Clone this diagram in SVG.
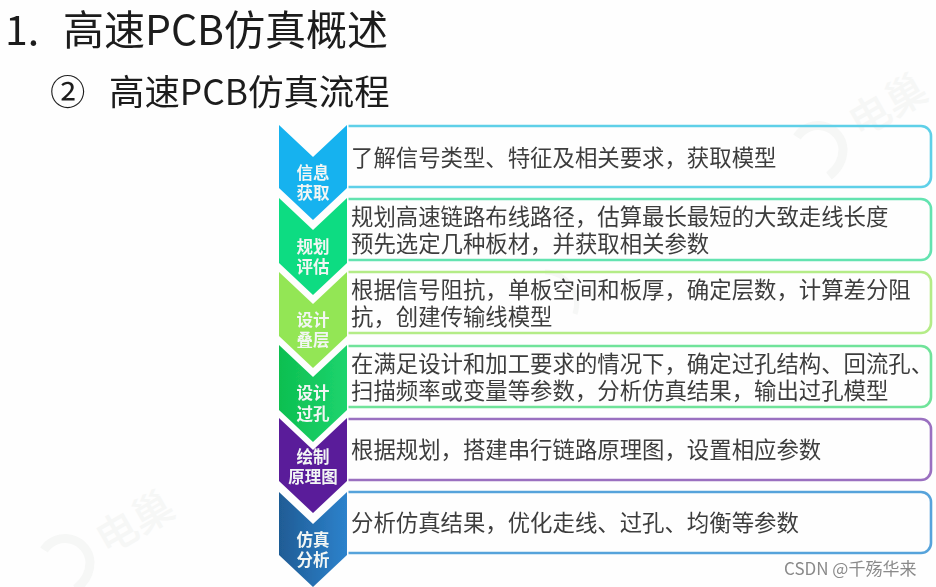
<svg xmlns="http://www.w3.org/2000/svg" width="936" height="587" viewBox="0 0 936 587">
<style>
text{font-family:"Noto Sans CJK SC","Noto Sans",sans-serif}
.t1{font-size:41px;fill:#1c1c1c}
.t2{font-size:35.4px;fill:#1c1c1c}
.b{font-size:22.4px;fill:#3c3c3c}
.c{font-size:16.5px;fill:#f2f6f4;text-anchor:middle;font-weight:700}
.box{fill:none;stroke-width:2.6}
.ch{stroke:#fefefe;stroke-width:3;paint-order:stroke}
.wm{font-size:41px;fill:#f6f7f6;font-weight:500;text-anchor:middle}
.sw{fill:none;stroke:#f6f7f6;stroke-width:9}
</style>
<defs>
<linearGradient id="blue" x1="0" x2="1" y1="0" y2="0"><stop offset="0" stop-color="#1f5c95"/><stop offset="1" stop-color="#2d82cc"/></linearGradient>
<linearGradient id="gr" x1="0" x2="1" y1="0" y2="0"><stop offset="0" stop-color="#0dbf50"/><stop offset="1" stop-color="#1dd46e"/></linearGradient>
<filter id="soft" x="-2%" y="-2%" width="104%" height="104%"><feGaussianBlur stdDeviation="0.45"/></filter>
</defs>
<rect width="936" height="587" fill="#fefefe"/>
<g id="watermarks">
<text class="wm" transform="translate(888,106) rotate(-30) translate(0,14)">电巢</text>
<text class="wm" transform="translate(135,523) rotate(-30) translate(0,14)">电巢</text>
<path class="sw" d="M797 137a25 25 0 0 1 46 12q0 16-14 27"/>
<path class="sw" d="M44 550a25 25 0 0 1 46 12q0 16-14 27"/>
<path class="sw" style="stroke-width:5" d="M545 272a32 32 0 0 1 30 42"/>
</g>
<g filter="url(#soft)">
<g id="titles">
<text x="5" y="45" class="t1">1.</text>
<text x="63" y="45" class="t1">高速PCB仿真概述</text>
<text x="50" y="105" class="t2">②</text>
<text x="109" y="105" class="t2">高速PCB仿真流程</text>
</g>
<g id="connectors"></g>
<g id="step6">
<path class="box" stroke="#57a3db" d="M347 492H921a10 10 0 0 1 10 10V543a10 10 0 0 1-10 10H347"/>
<path class="ch" fill="url(#blue)" d="M279 492L313 524L347 492V555L313 587L279 555Z"/>
<text class="c" x="313" y="546">仿真</text><text class="c" x="313" y="566">分析</text>
<text class="b" x="351" y="531">分析仿真结果，优化走线、过孔、均衡等参数</text>
</g>
<g id="step5">
<path class="box" stroke="#9a6fc0" d="M347 419H921a10 10 0 0 1 10 10V470a10 10 0 0 1-10 10H347"/>
<path class="ch" fill="#5a1c9a" d="M279 418L313 450L347 418V481L313 513L279 481Z"/>
<text class="c" x="313" y="463">绘制</text><text class="c" x="313" y="483">原理图</text>
<text class="b" x="351" y="458">根据规划，搭建串行链路原理图，设置相应参数</text>
</g>
<g id="step4">
<path class="box" stroke="#6fe39a" d="M347 346H921a10 10 0 0 1 10 10V397a10 10 0 0 1-10 10H347"/>
<path class="ch" fill="url(#gr)" d="M279 345L313 377L347 345V410L313 442L279 410Z"/>
<text class="c" x="313" y="399">设计</text><text class="c" x="313" y="420">过孔</text>
<text class="b" x="351" y="372">在满足设计和加工要求的情况下，确定过孔结构、回流孔、</text>
<text class="b" x="351" y="399">扫描频率或变量等参数，分析仿真结果，输出过孔模型</text>
</g>
<g id="step3">
<path class="box" stroke="#b4ec87" d="M347 272H921a10 10 0 0 1 10 10V323a10 10 0 0 1-10 10H347"/>
<path class="ch" fill="#93e654" d="M279 272L313 304L347 272V336L313 368L279 336Z"/>
<text class="c" x="313" y="326">设计</text><text class="c" x="313" y="346">叠层</text>
<text class="b" x="351" y="298">根据信号阻抗，单板空间和板厚，确定层数，计算差分阻</text>
<text class="b" x="351" y="325">抗，创建传输线模型</text>
</g>
<g id="step2">
<path class="box" stroke="#63e3b0" d="M347 199H921a10 10 0 0 1 10 10V250a10 10 0 0 1-10 10H347"/>
<path class="ch" fill="#0fdc82" d="M279 198L313 230L347 198V263L313 295L279 263Z"/>
<text class="c" x="313" y="253">规划</text><text class="c" x="313" y="273">评估</text>
<text class="b" x="351" y="225">规划高速链路布线路径，估算最长最短的大致走线长度</text>
<text class="b" x="351" y="252">预先选定几种板材，并获取相关参数</text>
</g>
<g id="step1">
<path class="box" stroke="#5ed0e8" d="M347 126H921a10 10 0 0 1 10 10V177a10 10 0 0 1-10 10H347"/>
<path class="ch" fill="#12b2ef" d="M279 125L313 157L347 125V188L313 220L279 188Z"/>
<text class="c" x="313" y="179">信息</text><text class="c" x="313" y="199">获取</text>
<text class="b" x="351" y="166">了解信号类型、特征及相关要求，获取模型</text>
</g>
<text x="784" y="575" style="font-size:17px;fill:#8a8a8a">CSDN @千殇华来</text>
</g>
</svg>
